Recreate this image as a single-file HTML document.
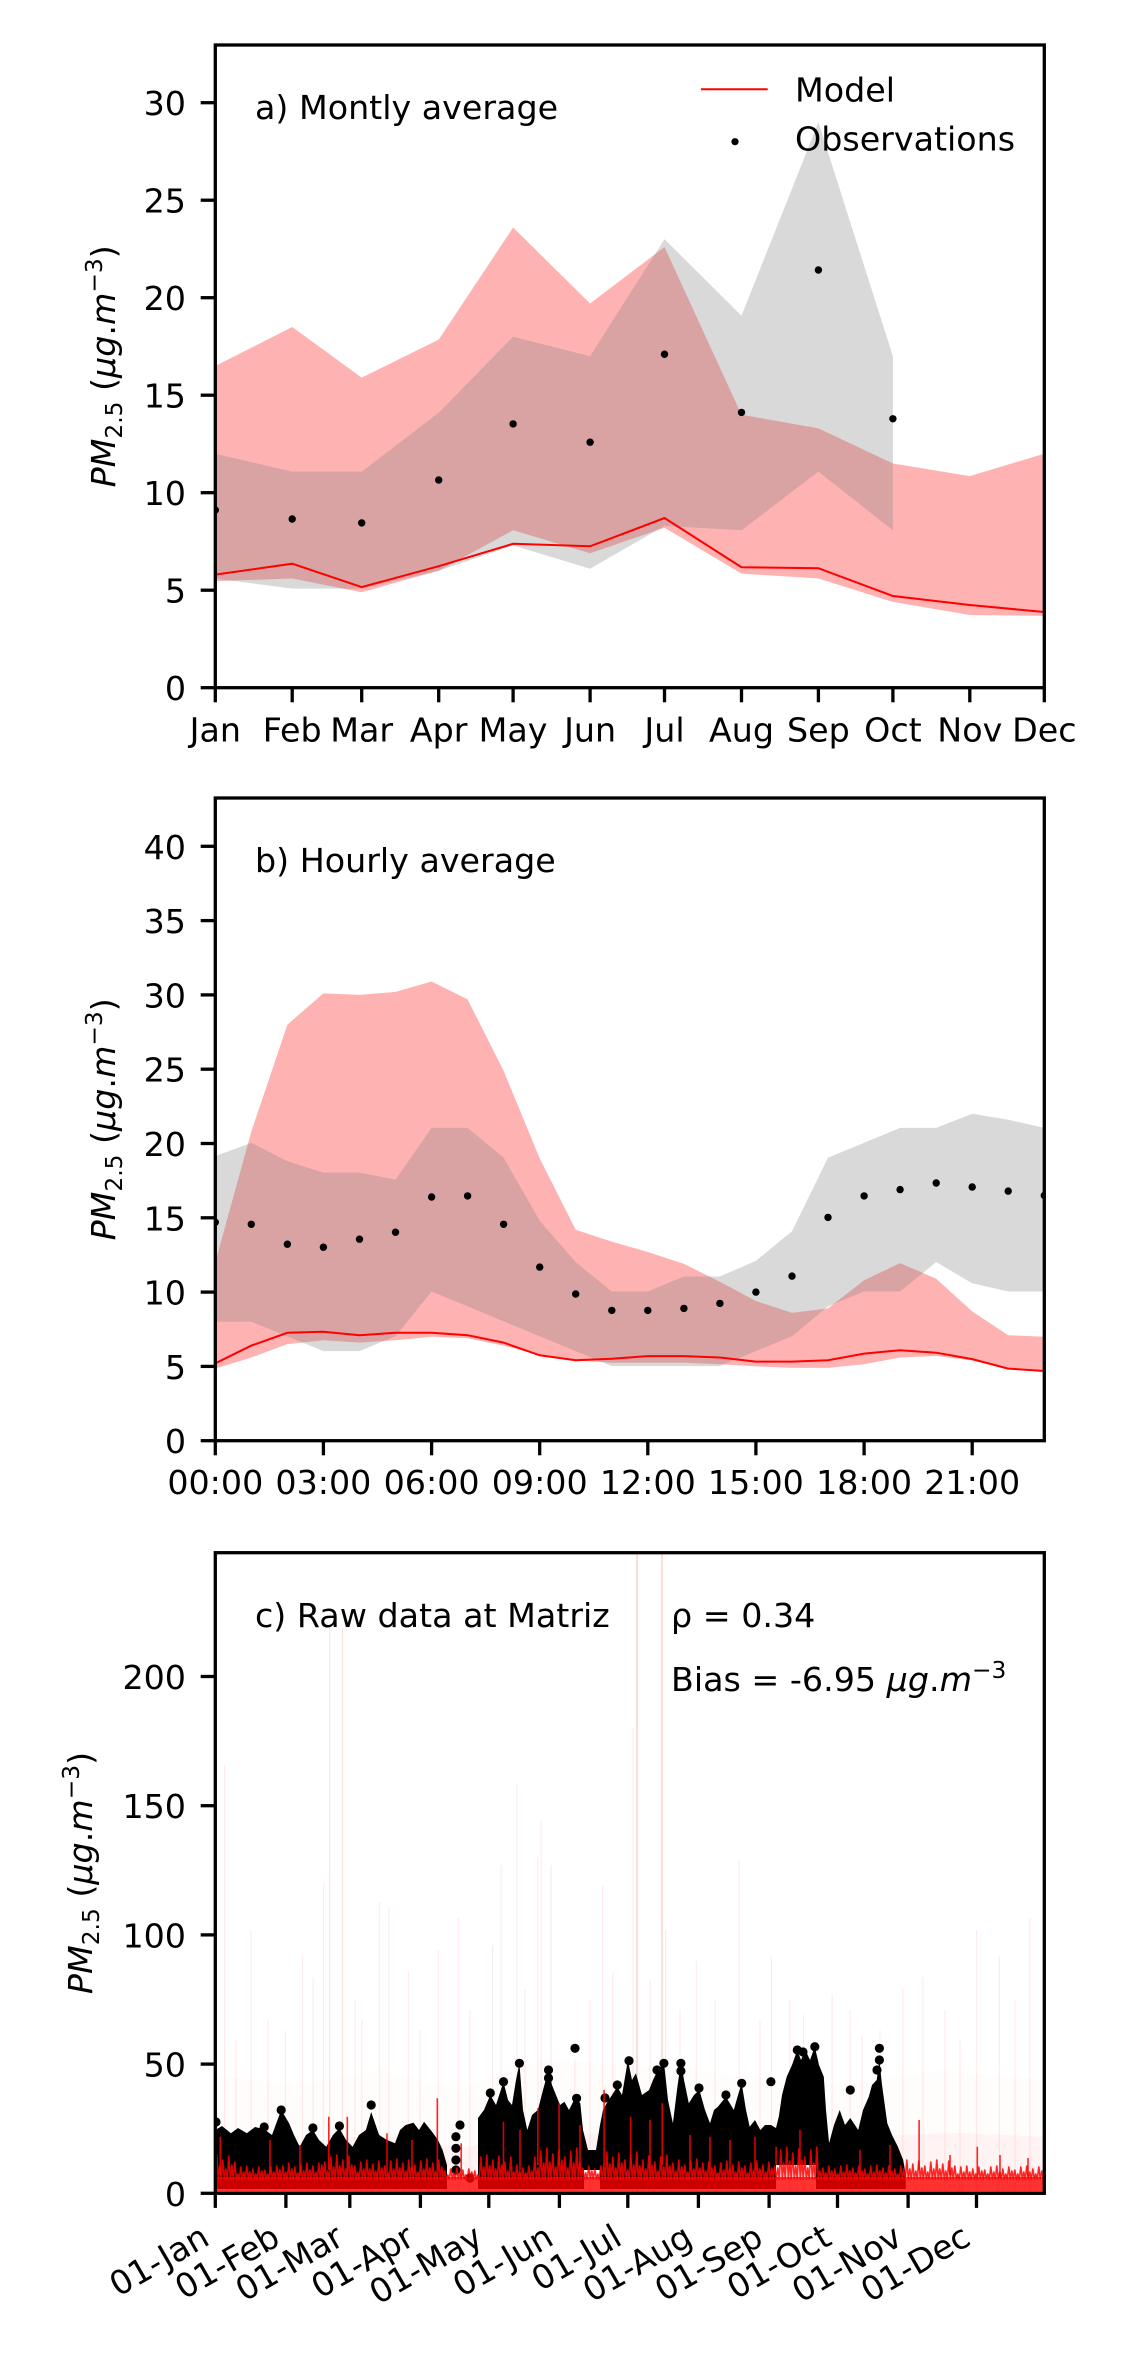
<!DOCTYPE html>
<html>
<head>
<meta charset="utf-8">
<style>
html,body{margin:0;padding:0;background:#fff;}
svg{display:block;}
text{font-family:"DejaVu Sans","Liberation Sans",sans-serif;font-size:33.3px;fill:#000;}
</style>
</head>
<body>
<svg width="1122" height="2362" viewBox="0 0 1122 2362" xmlns="http://www.w3.org/2000/svg">
<defs>
<clipPath id="ca"><rect x="215.3" y="45" width="829" height="642.7"/></clipPath>
<clipPath id="cb"><rect x="215.3" y="798" width="829" height="642.7"/></clipPath>
<clipPath id="cc"><rect x="215.3" y="1552.7" width="829" height="640.6"/></clipPath>
</defs>
<rect width="1122" height="2362" fill="#fff"/>

<!-- ================= PANEL A ================= -->
<g clip-path="url(#ca)">
<polygon fill="#ff0000" fill-opacity="0.3" points="215.3,365.95 292.2,326.95 361.7,377.65 438.7,339.6 513.1,227.5 590.1,303.55 664.5,247.0 741.5,414.7 818.4,428.35 892.9,463.45 969.8,476.1 1044.3,453.7 1044.3,615.9 969.8,615.0 892.9,601.9 818.4,578.5 741.5,573.6 664.5,527.8 590.1,553.2 513.1,530.3 438.7,570.7 361.7,592.2 292.2,578.5 215.3,581.2"/>
<polygon fill="#808080" fill-opacity="0.3" points="215.3,453.7 292.2,471.6 361.7,471.6 438.7,412.75 513.1,336.7 590.1,356.2 664.5,239.2 741.5,315.8 818.4,122.2 892.9,356.2 892.9,530.3 818.4,471.6 741.5,530.3 664.5,525.85 590.1,568.75 513.1,545.35 438.7,570.7 361.7,588.6 292.2,588.6 215.3,578.5"/>
<polyline fill="none" stroke="#ff0000" stroke-width="2" points="215.3,574.6 292.2,563.7 361.7,587.1 438.7,566.2 513.1,543.8 590.1,546.3 664.5,518.05 741.5,567.2 818.4,568.2 892.9,596.05 969.8,605.0 1044.3,612.0"/>
<g fill="#000">
<circle cx="215.3" cy="510.05" r="3.7"/><circle cx="292.2" cy="519.0" r="3.7"/><circle cx="361.7" cy="522.9" r="3.7"/><circle cx="438.7" cy="480.0" r="3.7"/><circle cx="513.1" cy="423.9" r="3.7"/><circle cx="590.1" cy="442.2" r="3.7"/><circle cx="664.5" cy="354.25" r="3.7"/><circle cx="741.5" cy="412.4" r="3.7"/><circle cx="818.4" cy="270.0" r="3.7"/><circle cx="892.9" cy="418.8" r="3.7"/>
</g>
</g>
<rect x="215.3" y="45" width="829" height="642.7" fill="none" stroke="#000" stroke-width="3.3"/>
<g stroke="#000" stroke-width="3.3">
<line x1="200.7" y1="687.7" x2="215.3" y2="687.7"/><line x1="200.7" y1="590.2" x2="215.3" y2="590.2"/><line x1="200.7" y1="492.7" x2="215.3" y2="492.7"/><line x1="200.7" y1="395.2" x2="215.3" y2="395.2"/><line x1="200.7" y1="297.7" x2="215.3" y2="297.7"/><line x1="200.7" y1="200.2" x2="215.3" y2="200.2"/><line x1="200.7" y1="102.7" x2="215.3" y2="102.7"/>
<line x1="215.3" y1="687.7" x2="215.3" y2="702.3"/><line x1="292.2" y1="687.7" x2="292.2" y2="702.3"/><line x1="361.7" y1="687.7" x2="361.7" y2="702.3"/><line x1="438.7" y1="687.7" x2="438.7" y2="702.3"/><line x1="513.1" y1="687.7" x2="513.1" y2="702.3"/><line x1="590.1" y1="687.7" x2="590.1" y2="702.3"/><line x1="664.5" y1="687.7" x2="664.5" y2="702.3"/><line x1="741.5" y1="687.7" x2="741.5" y2="702.3"/><line x1="818.4" y1="687.7" x2="818.4" y2="702.3"/><line x1="892.9" y1="687.7" x2="892.9" y2="702.3"/><line x1="969.8" y1="687.7" x2="969.8" y2="702.3"/><line x1="1044.3" y1="687.7" x2="1044.3" y2="702.3"/>
</g>
<g text-anchor="end">
<text x="186" y="700.2">0</text><text x="186" y="602.7">5</text><text x="186" y="505.2">10</text><text x="186" y="407.7">15</text><text x="186" y="310.2">20</text><text x="186" y="212.7">25</text><text x="186" y="115.2">30</text>
</g>
<g text-anchor="middle">
<text x="215.3" y="741.5">Jan</text><text x="292.2" y="741.5">Feb</text><text x="361.7" y="741.5">Mar</text><text x="438.7" y="741.5">Apr</text><text x="513.1" y="741.5">May</text><text x="590.1" y="741.5">Jun</text><text x="664.5" y="741.5">Jul</text><text x="741.5" y="741.5">Aug</text><text x="818.4" y="741.5">Sep</text><text x="892.9" y="741.5">Oct</text><text x="969.8" y="741.5">Nov</text><text x="1044.3" y="741.5">Dec</text>
</g>
<text x="255" y="119">a) Montly average</text>
<line x1="701" y1="89.3" x2="767.7" y2="89.3" stroke="#ff0000" stroke-width="2"/>
<text x="795" y="101.7">Model</text>
<circle cx="735" cy="141.7" r="3.6" fill="#000"/>
<text x="795" y="150.7">Observations</text>
<text transform="translate(115,366.35) rotate(-90)" text-anchor="middle"><tspan font-style="italic">PM</tspan><tspan font-size="23.3" dy="7">2.5</tspan><tspan dy="-7">&#160;(</tspan><tspan font-style="italic">μg</tspan><tspan>.</tspan><tspan font-style="italic">m</tspan><tspan font-size="23.3" dy="-13">−3</tspan><tspan dy="13">)</tspan></text>

<!-- ================= PANEL B ================= -->
<g clip-path="url(#cb)">
<polygon fill="#ff0000" fill-opacity="0.3" points="215.3,1262.4 251.3,1131.6 287.4,1024.6 323.4,993.4 359.5,994.9 395.5,991.9 431.6,981.5 467.6,999.4 503.6,1070.7 539.7,1158.4 575.7,1229.7 611.8,1241.6 647.8,1252.0 683.9,1263.9 719.9,1281.7 755.9,1301.0 792.0,1312.9 828.0,1308.4 864.1,1280.2 900.1,1263.1 936.2,1278.7 972.2,1311.4 1008.2,1335.2 1044.3,1336.7 1044.3,1372.3 1008.2,1368.6 972.2,1360.5 936.2,1356.0 900.1,1357.5 864.1,1364.2 828.0,1367.9 792.0,1367.9 755.9,1366.4 719.9,1364.2 683.9,1362.7 647.8,1362.7 611.8,1362.7 575.7,1360.5 539.7,1355.3 503.6,1345.6 467.6,1338.2 431.6,1336.7 395.5,1340.2 359.5,1342.6 323.4,1340.2 287.4,1344.1 251.3,1357.5 215.3,1368.6"/>
<polygon fill="#808080" fill-opacity="0.3" points="215.3,1156.1 251.3,1142.8 287.4,1161.3 323.4,1172.6 359.5,1172.6 395.5,1179.6 431.6,1127.9 467.6,1127.9 503.6,1157.6 539.7,1220.8 575.7,1262.1 611.8,1291.5 647.8,1291.5 683.9,1276.5 719.9,1276.5 755.9,1260.9 792.0,1231.2 828.0,1157.6 864.1,1142.8 900.1,1127.9 936.2,1127.9 972.2,1113.8 1008.2,1119.7 1044.3,1127.9 1044.3,1291.5 1008.2,1291.5 972.2,1283.2 936.2,1262.1 900.1,1291.5 864.1,1291.5 828.0,1306.4 792.0,1336.2 755.9,1351.1 719.9,1366.1 683.9,1366.1 647.8,1366.1 611.8,1366.1 575.7,1351.1 539.7,1336.2 503.6,1321.4 467.6,1306.4 431.6,1291.5 395.5,1336.2 359.5,1351.1 323.4,1351.1 287.4,1336.2 251.3,1321.8 215.3,1321.8"/>
<polyline fill="none" stroke="#ff0000" stroke-width="2" points="215.3,1363.4 251.3,1345.6 287.4,1332.8 323.4,1331.8 359.5,1335.2 395.5,1332.8 431.6,1332.8 467.6,1335.2 503.6,1342.6 539.7,1355.3 575.7,1360.2 611.8,1358.7 647.8,1356.1 683.9,1356.1 719.9,1357.5 755.9,1361.6 792.0,1361.6 828.0,1360.2 864.1,1353.6 900.1,1350.2 936.2,1352.7 972.2,1359.1 1008.2,1368.6 1044.3,1371.0"/>
<g fill="#000">
<circle cx="215.3" cy="1222.3" r="3.7"/><circle cx="251.3" cy="1224.3" r="3.7"/><circle cx="287.4" cy="1244.2" r="3.7"/><circle cx="323.4" cy="1247.2" r="3.7"/><circle cx="359.5" cy="1239.2" r="3.7"/><circle cx="395.5" cy="1232.2" r="3.7"/><circle cx="431.6" cy="1197.0" r="3.7"/><circle cx="467.6" cy="1195.9" r="3.7"/><circle cx="503.6" cy="1224.3" r="3.7"/><circle cx="539.7" cy="1267.1" r="3.7"/><circle cx="575.7" cy="1294.0" r="3.7"/><circle cx="611.8" cy="1310.4" r="3.7"/><circle cx="647.8" cy="1310.4" r="3.7"/><circle cx="683.9" cy="1308.4" r="3.7"/><circle cx="719.9" cy="1303.4" r="3.7"/><circle cx="755.9" cy="1292.1" r="3.7"/><circle cx="792.0" cy="1276.1" r="3.7"/><circle cx="828.0" cy="1217.4" r="3.7"/><circle cx="864.1" cy="1195.9" r="3.7"/><circle cx="900.1" cy="1189.6" r="3.7"/><circle cx="936.2" cy="1183.0" r="3.7"/><circle cx="972.2" cy="1187.0" r="3.7"/><circle cx="1008.2" cy="1191.1" r="3.7"/><circle cx="1044.3" cy="1195.5" r="3.7"/>
</g>
</g>
<rect x="215.3" y="798" width="829" height="642.7" fill="none" stroke="#000" stroke-width="3.3"/>
<g stroke="#000" stroke-width="3.3">
<line x1="200.7" y1="1440.7" x2="215.3" y2="1440.7"/><line x1="200.7" y1="1366.4" x2="215.3" y2="1366.4"/><line x1="200.7" y1="1292.1" x2="215.3" y2="1292.1"/><line x1="200.7" y1="1217.8" x2="215.3" y2="1217.8"/><line x1="200.7" y1="1143.5" x2="215.3" y2="1143.5"/><line x1="200.7" y1="1069.2" x2="215.3" y2="1069.2"/><line x1="200.7" y1="994.9" x2="215.3" y2="994.9"/><line x1="200.7" y1="920.6" x2="215.3" y2="920.6"/><line x1="200.7" y1="846.3" x2="215.3" y2="846.3"/>
<line x1="215.3" y1="1440.7" x2="215.3" y2="1455.3"/><line x1="323.4" y1="1440.7" x2="323.4" y2="1455.3"/><line x1="431.6" y1="1440.7" x2="431.6" y2="1455.3"/><line x1="539.7" y1="1440.7" x2="539.7" y2="1455.3"/><line x1="647.8" y1="1440.7" x2="647.8" y2="1455.3"/><line x1="755.9" y1="1440.7" x2="755.9" y2="1455.3"/><line x1="864.1" y1="1440.7" x2="864.1" y2="1455.3"/><line x1="972.2" y1="1440.7" x2="972.2" y2="1455.3"/>
</g>
<g text-anchor="end">
<text x="186" y="1453.2">0</text><text x="186" y="1378.9">5</text><text x="186" y="1304.6">10</text><text x="186" y="1230.3">15</text><text x="186" y="1156.0">20</text><text x="186" y="1081.7">25</text><text x="186" y="1007.4">30</text><text x="186" y="933.1">35</text><text x="186" y="858.8">40</text>
</g>
<g text-anchor="middle">
<text x="215.3" y="1494">00:00</text><text x="323.4" y="1494">03:00</text><text x="431.6" y="1494">06:00</text><text x="539.7" y="1494">09:00</text><text x="647.8" y="1494">12:00</text><text x="755.9" y="1494">15:00</text><text x="864.1" y="1494">18:00</text><text x="972.2" y="1494">21:00</text>
</g>
<text x="255" y="872">b) Hourly average</text>
<text transform="translate(115,1119.35) rotate(-90)" text-anchor="middle"><tspan font-style="italic">PM</tspan><tspan font-size="23.3" dy="7">2.5</tspan><tspan dy="-7">&#160;(</tspan><tspan font-style="italic">μg</tspan><tspan>.</tspan><tspan font-style="italic">m</tspan><tspan font-size="23.3" dy="-13">−3</tspan><tspan dy="13">)</tspan></text>

<!-- ================= PANEL C ================= -->
<g clip-path="url(#cc)">
<polygon fill="#ff0000" fill-opacity="0.012" points="215.3,2193.3 215.3,2075 300,2085 380,2070 460,2090 540,2060 640,2065 740,2075 840,2085 940,2070 1044.3,2080 1044.3,2193.3"/>
<polygon fill="#ff0000" fill-opacity="0.035" points="215.3,2193.3 215.3,2140 300,2145 380,2135 460,2148 540,2133 640,2135 740,2140 840,2142 900,2135 960,2133 1044.3,2137 1044.3,2193.3"/>
<g stroke="#ff0000" stroke-width="1.2" stroke-opacity="0.08" fill="none">
<path d="M224.6,2193V1765 M251,2193V1930 M285.3,2193V2031 M302.5,2193V1956 M313.2,2193V1977 M323.5,2193V1883 M361.8,2193V2020 M379.7,2193V1902 M389,2193V1906 M408.3,2193V1972 M438.3,2193V1950 M458.3,2193V1918 M492.6,2193V1945 M501.2,2193V1865 M516.9,2193V1784 M537.9,2193V1857 M541.2,2193V1821 M551.2,2193V1865 M574.8,2193V2059 M602.7,2193V1886 M612.7,2193V1972 M633,2193V1728 M665.6,2193V1930 M696.3,2193V1961 M739.2,2193V1859 M771.4,2193V1956 M803.5,2193V2015 M832.1,2193V1994 M862.1,2193V2036 M902.8,2193V1988 M922.8,2193V1977 M976.5,2193V1930 M999.3,2193V1956 M1030,2193V1918 M236,2193V2040 M268,2193V2020 M355,2193V2000 M420,2193V2030 M470,2193V2010 M525,2193V1990 M590,2193V2000 M650,2193V1980 M680,2193V2010 M715,2193V2000 M760,2193V2020 M790,2193V2000 M850,2193V2010 M880,2193V2030 M945,2193V2010 M960,2193V2040 M1015,2193V2000"/>
</g>
<g stroke="#ff0000" stroke-width="1.2" stroke-opacity="0.11" fill="none">
<path d="M329.7,2193V1628 M342.5,2193V1628"/>
</g>
<g stroke="#ff0000" stroke-width="1.4" stroke-opacity="0.2" fill="none">
<path d="M637,2193V1552 M662,2193V1552"/>
</g>
<path fill="#000" d="M215.3,2189 L215.3,2130 L222,2126 L230.9,2133.3 L238,2128 L246.8,2133.3 L255,2127 L264.2,2129.3 L272,2135 L281.2,2110 L289.1,2123.3 L294,2135 L299.7,2146.7 L306,2135 L312.9,2130 L319,2140 L326.2,2146.7 L333,2135 L339.4,2128.3 L346,2140 L352.6,2146.7 L359,2135 L365.9,2130 L371.2,2112 L379.1,2135 L387,2140 L395,2143.3 L400,2130 L405.6,2125 L413.5,2122.7 L419,2130 L424.1,2121.7 L432,2131.7 L438,2140 L442.6,2150 L447,2165 L447,2189 Z
M478,2189 L478,2118 L484,2110 L490.3,2095 L496,2105 L503.5,2081.7 L508,2100 L512,2105 L516,2080 L519.4,2063.3 L523,2110 L527.3,2130 L532,2115 L537.9,2110 L543,2090 L548.5,2070 L552,2085 L556,2095 L560,2105 L564.4,2101.7 L569,2110 L575,2098 L580.3,2103.3 L583,2130 L588,2150 L596,2150 L600,2125 L603,2110 L606.7,2103.3 L612,2095 L617.3,2086.7 L622,2095 L627.9,2060 L632,2080 L635.9,2073.3 L642,2095 L649.1,2090 L653,2080 L657,2071.7 L663.9,2061.7 L668,2100 L672.9,2123.3 L677,2090 L680.9,2061.7 L684,2080 L688.8,2103.3 L694,2095 L699.4,2090 L705,2110 L710,2123.3 L714,2110 L717.9,2106.7 L725.9,2096.7 L733.8,2110 L738,2095 L741.7,2083.3 L746,2110 L749.7,2126.7 L755,2120 L760.3,2130 L765,2125 L770.9,2125 L776,2128 L778.8,2116.7 L782,2095 L786.7,2076.7 L792,2065 L797.3,2050 L801,2060 L805.3,2050 L810,2060 L814.8,2046.7 L819,2065 L823.8,2076.7 L826,2110 L829.1,2143.3 L829.1,2189 L816,2189 L816,2165 L776,2165 L776,2189 L600,2189 L600,2170 L584,2170 L584,2189 Z
M829.1,2189 L829.1,2143 L834,2125 L839.7,2110 L845,2125 L850.3,2118 L858.2,2130 L863,2110 L868.8,2096.7 L872,2085 L876.7,2080 L879.4,2060 L882,2085 L887.3,2123.3 L892,2135 L897.9,2146.7 L903.2,2160 L905.8,2175 L905.8,2189 Z"/>
<g fill="#000">
<circle cx="281.2" cy="2110" r="4.6"/><circle cx="312.9" cy="2128" r="4.6"/><circle cx="339.4" cy="2126" r="4.6"/><circle cx="264.2" cy="2127" r="4.6"/><circle cx="371.2" cy="2105" r="4.6"/><circle cx="455.9" cy="2136.7" r="4.6"/><circle cx="455.9" cy="2148.3" r="4.6"/><circle cx="455.9" cy="2160" r="4.6"/><circle cx="455.9" cy="2170" r="4.6"/><circle cx="503.5" cy="2081.7" r="4.6"/><circle cx="519.4" cy="2063.3" r="4.6"/><circle cx="548.5" cy="2070" r="4.6"/><circle cx="548.5" cy="2078" r="4.6"/><circle cx="575" cy="2048.3" r="4.6"/><circle cx="576.6" cy="2098.3" r="4.6"/><circle cx="629" cy="2060.7" r="4.6"/><circle cx="663.9" cy="2063.3" r="4.6"/><circle cx="680.9" cy="2063.3" r="4.6"/><circle cx="680.9" cy="2071" r="4.6"/><circle cx="741.7" cy="2083.3" r="4.6"/><circle cx="770.9" cy="2081.7" r="4.6"/><circle cx="797.3" cy="2050" r="4.6"/><circle cx="803" cy="2052" r="4.6"/><circle cx="814.8" cy="2046.7" r="4.6"/><circle cx="850.3" cy="2090" r="4.6"/><circle cx="879.4" cy="2048.3" r="4.6"/><circle cx="879.4" cy="2060" r="4.6"/><circle cx="877" cy="2070" r="4.6"/><circle cx="490.3" cy="2093" r="4.6"/><circle cx="617.3" cy="2085" r="4.6"/><circle cx="657" cy="2070" r="4.6"/><circle cx="699" cy="2088" r="4.6"/><circle cx="725.9" cy="2095" r="4.6"/><circle cx="216" cy="2122" r="4.6"/><circle cx="605" cy="2098" r="4.6"/><circle cx="460" cy="2125" r="4.6"/><circle cx="470" cy="2178" r="4.6"/>
</g>
<rect x="215.3" y="2177" width="829" height="14.5" fill="#ff0000" fill-opacity="0.8"/>
<path fill="none" stroke="#ff0000" stroke-opacity="0.85" stroke-width="1.6" stroke-linejoin="round" d="M215.3,2179 l1.5,-24 1.5,24 1.5,-13 1.5,13 1.5,-19 1.5,19 1.5,-10 1.5,10 1.5,-23 1.5,23 1.5,-14 1.5,14 1.5,-17 1.5,17
1.5,-5 1.5,5 1.5,-12 1.5,12 1.5,-7 1.5,7 1.5,-13 1.5,13 1.5,-7 1.5,7 1.5,-10 1.5,10 1.5,-5 1.5,5 1.5,-12 1.5,12 1.5,-8 1.5,8 1.5,-9 1.5,9 1.5,-5 1.5,5 1.5,-12 1.5,12 1.5,-7 1.5,7 1.5,-13 1.5,13
1.5,-9 1.5,9 1.5,-13 1.5,13 1.5,-7 1.5,7 1.5,-16 1.5,16 1.5,-10 1.5,10 1.5,-12 1.5,12 1.5,-6 1.5,6 1.5,-15 1.5,15 1.5,-8 1.5,8 1.5,-16 1.5,16 1.5,-9 1.5,9 1.5,-13 1.5,13 1.5,-7 1.5,7 1.5,-16 1.5,16
1.5,-14 1.5,14 1.5,-17 1.5,17 1.5,-8 1.5,8 1.5,-22 1.5,22 1.5,-12 1.5,12 1.5,-24 1.5,24 1.5,-13 1.5,13 1.5,-19 1.5,19 1.5,-10 1.5,10 1.5,-23 1.5,23 1.5,-14 1.5,14
1.5,-13 1.5,13 1.5,-7 1.5,7 1.5,-17 1.5,17 1.5,-10 1.5,10 1.5,-19 1.5,19 1.5,-10 1.5,10 1.5,-15 1.5,15 1.5,-8 1.5,8 1.5,-18 1.5,18 1.5,-11 1.5,11 1.5,-13 1.5,13 1.5,-7 1.5,7
1.5,-18 1.5,18 1.5,-10 1.5,10 1.5,-20 1.5,20 1.5,-11 1.5,11 1.5,-16 1.5,16 1.5,-8 1.5,8 1.5,-19 1.5,19 1.5,-12 1.5,12 1.5,-14 1.5,14 1.5,-7 1.5,7 1.5,-18 1.5,18 1.5,-10 1.5,10 1.5,-20 1.5,20 1.5,-11 1.5,11 1.5,-16 1.5,16 1.5,-8 1.5,8 1.5,-19 1.5,19 1.5,-12 1.5,12
1.5,-8 1.5,8 1.5,-4 1.5,4 1.5,-10 1.5,10 1.5,-6 1.5,6 1.5,-11 1.5,11 1.5,-6 1.5,6 1.5,-9 1.5,9 1.5,-4 1.5,4 1.5,-10 1.5,10 1.5,-7 1.5,7 1.5,-8 1.5,8 1.5,-4 1.5,4
1.5,-22 1.5,22 1.5,-12 1.5,12 1.5,-24 1.5,24 1.5,-13 1.5,13 1.5,-19 1.5,19 1.5,-10 1.5,10 1.5,-23 1.5,23 1.5,-14 1.5,14 1.5,-17 1.5,17 1.5,-8 1.5,8 1.5,-22 1.5,22
1.5,-7 1.5,7 1.5,-14 1.5,14 1.5,-8 1.5,8 1.5,-11 1.5,11 1.5,-6 1.5,6 1.5,-13 1.5,13 1.5,-8 1.5,8
1.5,-22 1.5,22 1.5,-11 1.5,11 1.5,-28 1.5,28 1.5,-16 1.5,16 1.5,-31 1.5,31 1.5,-17 1.5,17 1.5,-25 1.5,25 1.5,-12 1.5,12 1.5,-29 1.5,29 1.5,-19 1.5,19 1.5,-22 1.5,22 1.5,-11 1.5,11 1.5,-28 1.5,28 1.5,-16 1.5,16 1.5,-31 1.5,31 1.5,-17 1.5,17
1.5,-11 1.5,11 1.5,-6 1.5,6 1.5,-13 1.5,13 1.5,-8 1.5,8 1.5,-10 1.5,10 1.5,-5 1.5,5 1.5,-13 1.5,13
1.5,-14 1.5,14 1.5,-27 1.5,27 1.5,-15 1.5,15 1.5,-22 1.5,22 1.5,-11 1.5,11 1.5,-26 1.5,26 1.5,-16 1.5,16 1.5,-19 1.5,19 1.5,-9 1.5,9 1.5,-24 1.5,24 1.5,-14 1.5,14 1.5,-27 1.5,27
1.5,-13 1.5,13 1.5,-19 1.5,19 1.5,-10 1.5,10 1.5,-23 1.5,23 1.5,-14 1.5,14 1.5,-17 1.5,17 1.5,-8 1.5,8 1.5,-22 1.5,22 1.5,-12 1.5,12 1.5,-24 1.5,24 1.5,-13 1.5,13
1.5,-16 1.5,16 1.5,-8 1.5,8 1.5,-19 1.5,19 1.5,-12 1.5,12 1.5,-14 1.5,14 1.5,-7 1.5,7 1.5,-18 1.5,18 1.5,-10 1.5,10 1.5,-20 1.5,20 1.5,-11 1.5,11 1.5,-16 1.5,16 1.5,-8 1.5,8
1.5,-17 1.5,17 1.5,-11 1.5,11 1.5,-13 1.5,13 1.5,-6 1.5,6 1.5,-16 1.5,16 1.5,-9 1.5,9 1.5,-18 1.5,18 1.5,-10 1.5,10 1.5,-14 1.5,14 1.5,-7 1.5,7 1.5,-17 1.5,17 1.5,-11 1.5,11 1.5,-13 1.5,13 1.5,-6 1.5,6 1.5,-16 1.5,16 1.5,-9 1.5,9 1.5,-18 1.5,18 1.5,-10 1.5,10 1.5,-14 1.5,14 1.5,-7 1.5,7 1.5,-17 1.5,17 1.5,-11 1.5,11 1.5,-13 1.5,13
1.5,-11 1.5,11 1.5,-29 1.5,29 1.5,-16 1.5,16 1.5,-32 1.5,32 1.5,-18 1.5,18 1.5,-26 1.5,26 1.5,-13 1.5,13 1.5,-30 1.5,30 1.5,-19 1.5,19 1.5,-22 1.5,22 1.5,-11 1.5,11 1.5,-29 1.5,29 1.5,-16 1.5,16 1.5,-32 1.5,32
1.5,-8 1.5,8 1.5,-11 1.5,11 1.5,-6 1.5,6 1.5,-13 1.5,13 1.5,-8 1.5,8 1.5,-10 1.5,10 1.5,-5 1.5,5 1.5,-13 1.5,13 1.5,-7 1.5,7 1.5,-14 1.5,14 1.5,-8 1.5,8 1.5,-11 1.5,11 1.5,-6 1.5,6 1.5,-13 1.5,13 1.5,-8 1.5,8 1.5,-10 1.5,10 1.5,-5 1.5,5 1.5,-13 1.5,13 1.5,-7 1.5,7 1.5,-14 1.5,14 1.5,-8 1.5,8 1.5,-11 1.5,11 1.5,-6 1.5,6 1.5,-13 1.5,13 1.5,-8 1.5,8 1.5,-10 1.5,10 1.5,-5 1.5,5 1.5,-13 1.5,13
1.5,-10 1.5,10 1.5,-19 1.5,19 1.5,-10 1.5,10 1.5,-15 1.5,15 1.5,-8 1.5,8 1.5,-18 1.5,18 1.5,-11 1.5,11 1.5,-13 1.5,13 1.5,-7 1.5,7 1.5,-17 1.5,17 1.5,-10 1.5,10 1.5,-19 1.5,19 1.5,-10 1.5,10 1.5,-15 1.5,15 1.5,-8 1.5,8 1.5,-18 1.5,18 1.5,-11 1.5,11 1.5,-13 1.5,13
1.5,-5 1.5,5 1.5,-12 1.5,12 1.5,-7 1.5,7 1.5,-13 1.5,13 1.5,-7 1.5,7 1.5,-10 1.5,10 1.5,-5 1.5,5 1.5,-12 1.5,12 1.5,-8 1.5,8 1.5,-9 1.5,9 1.5,-5 1.5,5 1.5,-12 1.5,12 1.5,-7 1.5,7 1.5,-13 1.5,13 1.5,-7 1.5,7 1.5,-10 1.5,10 1.5,-5 1.5,5 1.5,-12 1.5,12 1.5,-8 1.5,8 1.5,-9 1.5,9 1.5,-5 1.5,5 1.5,-12 1.5,12 1.5,-7 1.5,7 1.5,-13 1.5,13 1.5,-7 1.5,7 1.5,-10 1.5,10 1.5,-5 1.5,5 1.5,-12 1.5,12 1.5,-8 1.5,8"/>
<g stroke="#ff0000" stroke-opacity="0.85" stroke-width="1.6" fill="none">
<path d="M220.3,2175V2136.7 M328.8,2170V2116.7 M347.3,2170V2116.7 M387,2172V2133.3 M437.3,2170V2098.3 M461.2,2178V2143.3 M503.5,2170V2121.7 M537.9,2165V2108.3 M559.1,2165V2103.3 M604.1,2165V2090 M630.6,2165V2116.7 M662.3,2165V2103.3 M710,2170V2136.7 M755,2170V2136.7 M776.1,2165V2146.7 M919.1,2170V2120 M977.3,2175V2146.7 M270,2175V2140 M300,2175V2145 M412,2172V2140 M520,2170V2130 M580,2168V2125 M650,2168V2120 M690,2170V2135 M730,2172V2140 M800,2165V2130 M860,2175V2150 M890,2175V2145 M950,2175V2155 M1000,2178V2155 M1028,2178V2158"/>
</g>
</g>
<rect x="215.3" y="1552.7" width="829" height="640.6" fill="none" stroke="#000" stroke-width="3.3"/>
<g stroke="#000" stroke-width="3.3">
<line x1="200.7" y1="2193.3" x2="215.3" y2="2193.3"/><line x1="200.7" y1="2064.1" x2="215.3" y2="2064.1"/><line x1="200.7" y1="1934.9" x2="215.3" y2="1934.9"/><line x1="200.7" y1="1805.7" x2="215.3" y2="1805.7"/><line x1="200.7" y1="1676.5" x2="215.3" y2="1676.5"/>
<line x1="215.3" y1="2193.3" x2="215.3" y2="2207.9"/><line x1="285.9" y1="2193.3" x2="285.9" y2="2207.9"/><line x1="349.8" y1="2193.3" x2="349.8" y2="2207.9"/><line x1="420.4" y1="2193.3" x2="420.4" y2="2207.9"/><line x1="488.8" y1="2193.3" x2="488.8" y2="2207.9"/><line x1="559.4" y1="2193.3" x2="559.4" y2="2207.9"/><line x1="627.8" y1="2193.3" x2="627.8" y2="2207.9"/><line x1="698.4" y1="2193.3" x2="698.4" y2="2207.9"/><line x1="769.1" y1="2193.3" x2="769.1" y2="2207.9"/><line x1="837.5" y1="2193.3" x2="837.5" y2="2207.9"/><line x1="908.1" y1="2193.3" x2="908.1" y2="2207.9"/><line x1="976.5" y1="2193.3" x2="976.5" y2="2207.9"/>
</g>
<g text-anchor="end">
<text x="186" y="2205.8">0</text><text x="186" y="2076.6">50</text><text x="186" y="1947.4">100</text><text x="186" y="1818.2">150</text><text x="186" y="1689">200</text>
</g>
<g text-anchor="end">
<text x="211.3" y="2243.5" transform="rotate(-30 211.3 2243.5)">01-Jan</text>
<text x="281.9" y="2243.5" transform="rotate(-30 281.9 2243.5)">01-Feb</text>
<text x="345.8" y="2243.5" transform="rotate(-30 345.8 2243.5)">01-Mar</text>
<text x="416.4" y="2243.5" transform="rotate(-30 416.4 2243.5)">01-Apr</text>
<text x="484.8" y="2243.5" transform="rotate(-30 484.8 2243.5)">01-May</text>
<text x="555.4" y="2243.5" transform="rotate(-30 555.4 2243.5)">01-Jun</text>
<text x="623.8" y="2243.5" transform="rotate(-30 623.8 2243.5)">01-Jul</text>
<text x="694.4" y="2243.5" transform="rotate(-30 694.4 2243.5)">01-Aug</text>
<text x="765.1" y="2243.5" transform="rotate(-30 765.1 2243.5)">01-Sep</text>
<text x="833.5" y="2243.5" transform="rotate(-30 833.5 2243.5)">01-Oct</text>
<text x="904.1" y="2243.5" transform="rotate(-30 904.1 2243.5)">01-Nov</text>
<text x="972.5" y="2243.5" transform="rotate(-30 972.5 2243.5)">01-Dec</text>
</g>
<text x="255" y="1627">c) Raw data at Matriz</text>
<text x="671" y="1627">ρ = 0.34</text>
<text x="671" y="1691">Bias = -6.95 <tspan font-style="italic">μg</tspan>.<tspan font-style="italic">m</tspan><tspan font-size="23.3" dy="-13">−3</tspan></text>
<text transform="translate(92,1873) rotate(-90)" text-anchor="middle"><tspan font-style="italic">PM</tspan><tspan font-size="23.3" dy="7">2.5</tspan><tspan dy="-7">&#160;(</tspan><tspan font-style="italic">μg</tspan><tspan>.</tspan><tspan font-style="italic">m</tspan><tspan font-size="23.3" dy="-13">−3</tspan><tspan dy="13">)</tspan></text>
</svg>
</body>
</html>
